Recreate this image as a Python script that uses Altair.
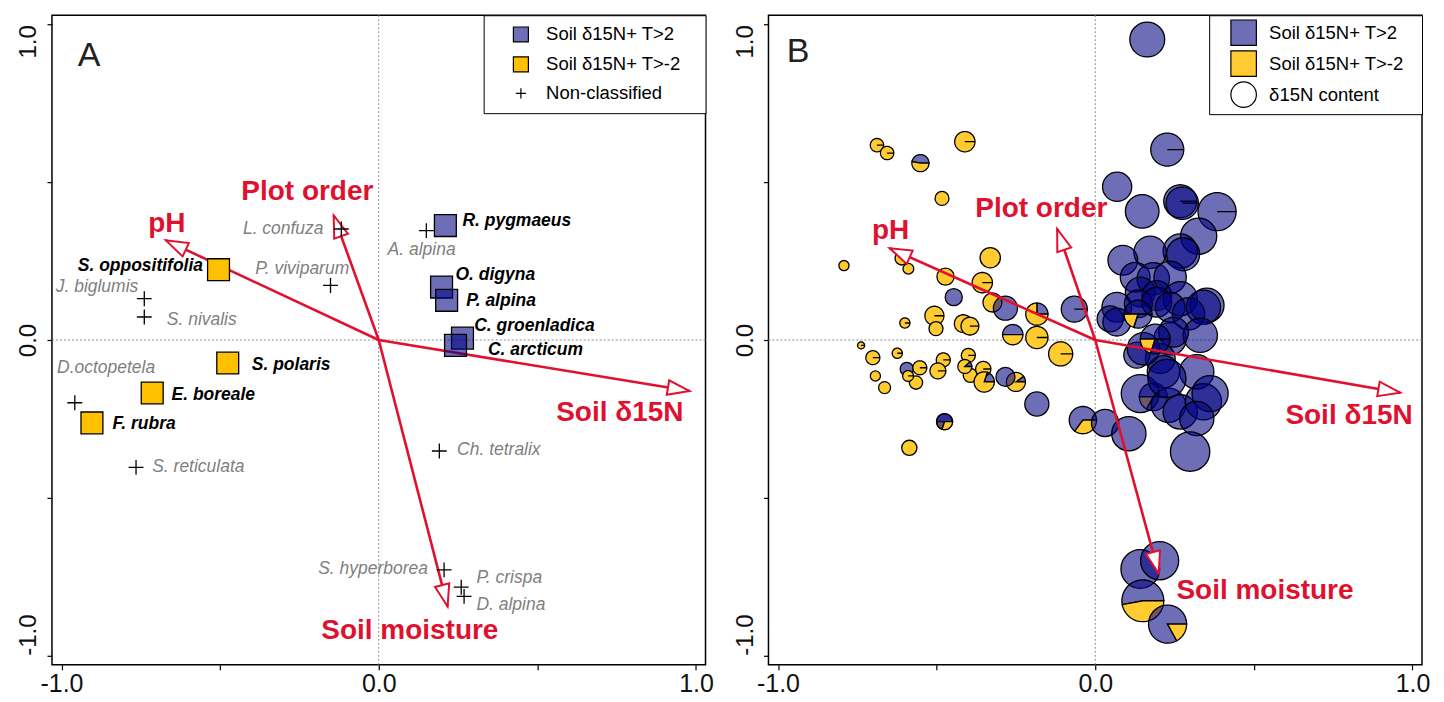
import math
import altair as alt
import pandas as pd

FONT = "Liberation Sans, Arial, Helvetica, sans-serif"
RED = "#E0102F"
BLUE = "rgba(0,0,128,0.57)"
YEL_A = "#FFC000"
YEL_B = "#FFCB30"
GRAY_TXT = "#7F7F7F"
W, H = 654, 650
DOM = [-1.03, 1.03]
PPU = W / (DOM[1] - DOM[0])

TICKS = [-1.0, -0.5, 0.0, 0.5, 1.0]
TICK_EXPR = "datum.value == 0 ? '0.0' : datum.value > 0.9 ? '1.0' : datum.value < -0.9 ? '-1.0' : ''"

G1, G2, G3 = "Soil δ15N+ T>2", "Soil δ15N+ T>-2", "Non-classified"
G4 = "δ15N content"
GRP_A = [G1, G2, G3]
GRP_B = [G1, G2, G4]
CROSS = "M-0.68,0L0.68,0M0,-0.68L0,0.68"
HEAD = "M0,0L-0.5,1.5L0.5,1.5Z"

# ---------------- Panel A: species scores ----------------
a_names = ["R. pygmaeus", "O. digyna", "P. alpina", "C. groenladica", "C. arcticum",
           "S. oppositifolia", "S. polaris", "E. boreale", "F. rubra",
           "L. confuza", "A. alpina", "P. viviparum", "J. biglumis", "S. nivalis",
           "D.octopetela", "S. reticulata", "Ch. tetralix", "S. hyperborea", "P. crispa", "D. alpina"]
a_group = ["T>2"] * 5 + ["T>-2"] * 4 + ["NC"] * 11
a_x = [0.210, 0.198, 0.214, 0.264, 0.242,
       -0.505, -0.476, -0.714, -0.904,
       -0.118, 0.150, -0.152, -0.739, -0.739, -0.958, -0.765, 0.191, 0.206, 0.260, 0.269]
a_y = [0.363, 0.168, 0.126, 0.006, -0.017,
       0.223, -0.073, -0.168, -0.263,
       0.352, 0.347, 0.173, 0.131, 0.073, -0.199, -0.404, -0.352, -0.729, -0.784, -0.813]
a_lab_x = [0.264, 0.242, 0.276, 0.301, 0.344,
           -0.554, -0.400, -0.653, -0.839,
           -0.174, 0.028, -0.389, -0.758, -0.668, -1.014, -0.714, 0.247, 0.155, 0.308, 0.308]
a_lab_y = [0.379, 0.205, 0.123, 0.046, -0.033,
           0.236, -0.080, -0.175, -0.265,
           0.352, 0.284, 0.226, 0.168, 0.062, -0.089, -0.404, -0.349, -0.725, -0.755, -0.840]
a_lab_side = ["left"] * 5 + ["right", "left", "left", "left"] + \
             ["right", "left", "left", "right", "left", "left", "left", "left", "right", "left", "left"]

# ---------------- Environmental arrows ----------------
arrow_vars = ["pH", "Plot order", "Soil δ15N", "Soil moisture"]
a_arrow_x = [-0.671, -0.142, 0.980, 0.217]
a_arrow_y = [0.316, 0.395, -0.162, -0.845]
a_arrlab_x = [-0.668, -0.225, 0.760, 0.098]
a_arrlab_y = [0.368, 0.470, -0.232, -0.924]
b_arrow_x = [-0.648, -0.120, 0.961, 0.200]
b_arrow_y = [0.291, 0.352, -0.167, -0.740]
b_arrlab_x = [-0.645, -0.170, 0.800, 0.535]
b_arrlab_y = [0.347, 0.415, -0.240, -0.795]

# ---------------- Panel B: plot scores as pies ----------------
# x, y: site scores; r: d15N content (pie radius, axis units); blue: share T>2 (first slice);
# yel: share T>-2 (second slice); edge: drawn as pie with slice borders
b_x = [-0.594, -0.688, -0.656, -0.551, -0.411, -0.483, -0.792, -0.331, -0.610, -0.589,
       -0.472, -0.356, -0.324, -0.507, -0.502, -0.600, -0.416, -0.395, -0.184, -0.109,
       -0.738, -0.701, -0.624, -0.693, -0.664, -0.479, -0.496, -0.400, -0.394, -0.353,
       -0.565, -0.586, -0.590, -0.553, -0.411, -0.350, -0.260, -0.184, -0.446, -0.283,
       -0.250, -0.283, -0.184, -0.475, -0.475, -0.039, 0.031, 0.106, -0.066, 0.164,
       0.227, 0.069, 0.148, 0.268, 0.274, 0.384, 0.326, 0.268, 0.277, 0.173,
       0.087, 0.126, 0.183, 0.236, 0.142, 0.194, 0.268, 0.352, 0.183, 0.068,
       0.047, 0.136, 0.194, 0.236, 0.294, 0.341, 0.236, 0.331, 0.205, 0.131,
       0.215, 0.320, 0.142, 0.231, 0.268, 0.341, 0.362, 0.320, 0.226, 0.247,
       0.068, 0.152, 0.299, 0.135, 0.189, 0.142, 0.203, 0.150, 0.228]
b_y = [-0.092, 0.618, 0.593, 0.561, 0.629, 0.449, 0.236, 0.261, 0.259, 0.226,
       0.201, 0.182, 0.119, 0.077, 0.036, 0.054, 0.052, 0.044, 0.008, -0.044,
       -0.017, -0.056, -0.042, -0.114, -0.151, -0.063, -0.098, -0.049, -0.112, -0.092,
       -0.135, -0.342, -0.114, -0.088, -0.084, -0.133, 0.017, 0.082, 0.136, 0.101,
       -0.133, -0.117, -0.203, -0.259, -0.259, -0.254, -0.263, -0.297, 0.098, 0.953,
       0.604, 0.486, 0.408, 0.440, 0.434, 0.407, 0.329, 0.282, 0.272, 0.278,
       0.253, 0.199, 0.194, 0.199, 0.152, 0.141, 0.131, 0.110, -0.180, 0.104,
       0.067, 0.115, 0.120, 0.104, 0.083, 0.104, 0.004, 0.015, -0.059, -0.048,
       -0.101, -0.101, -0.170, -0.207, -0.228, -0.196, -0.170, -0.249, -0.122, 0.025,
       0.057, -0.028, -0.354, 0.082, 0.003, -0.726, -0.700, -0.827, -0.901]
b_r = [0.021, 0.021, 0.021, 0.027, 0.032, 0.022, 0.016, 0.032, 0.021, 0.017,
       0.027, 0.032, 0.030, 0.030, 0.022, 0.016, 0.028, 0.028, 0.035, 0.038,
       0.011, 0.022, 0.016, 0.016, 0.019, 0.022, 0.025, 0.022, 0.022, 0.024,
       0.021, 0.024, 0.017, 0.022, 0.022, 0.032, 0.032, 0.035, 0.027, 0.038,
       0.030, 0.030, 0.038, 0.025, 0.025, 0.043, 0.043, 0.054, 0.041, 0.055,
       0.052, 0.046, 0.053, 0.052, 0.051, 0.060, 0.057, 0.054, 0.052, 0.051,
       0.047, 0.047, 0.051, 0.051, 0.047, 0.047, 0.054, 0.054, 0.044, 0.047,
       0.041, 0.044, 0.047, 0.047, 0.051, 0.054, 0.051, 0.054, 0.047, 0.041,
       0.051, 0.054, 0.060, 0.054, 0.054, 0.057, 0.057, 0.054, 0.060, 0.047,
       0.044, 0.051, 0.062, 0.044, 0.047, 0.061, 0.060, 0.066, 0.060]
b_blue = [1, 0, 0, 0.47, 0, 0, 0, 0, 0, 0,
          0, 0, 0, 0, 0, 0, 0, 0, 0, 0,
          0, 0, 0, 0, 0, 0, 0, 0, 0, 0,
          0, 0, 0, 0, 0.12, 0.2, 0.5, 0.25, 1, 1,
          0.1, 1, 1, 0.5, 0.7, 0.65, 1, 1, 1, 1,
          1, 1, 1, 1, 1, 1, 1, 1, 1, 1,
          1, 1, 1, 1, 1, 1, 1, 1, 0.5, 1,
          1, 1, 1, 1, 1, 1, 1, 1, 1, 1,
          1, 1, 1, 1, 1, 1, 1, 1, 1, 1,
          1, 1, 1, 0.5, 0.5, 1, 1, 0.53, 0.83]
b_yel = [0, 1, 1, 0.53, 1, 1, 1, 1, 1, 1,
         1, 1, 1, 1, 1, 1, 1, 1, 1, 1,
         1, 1, 1, 1, 1, 1, 1, 1, 1, 1,
         1, 1, 1, 1, 0.88, 0.8, 0.5, 0.75, 0, 0,
         0.9, 0, 0, 0.5, 0.3, 0.35, 0, 0, 0, 0,
         0, 0, 0, 0, 0, 0, 0, 0, 0, 0,
         0, 0, 0, 0, 0, 0, 0, 0, 0.17, 0,
         0, 0, 0, 0, 0, 0, 0, 0, 0, 0,
         0, 0, 0, 0, 0, 0, 0, 0, 0, 0,
         0, 0, 0, 0.2, 0.2, 0, 0, 0.47, 0.17]
b_edge = [0, 1, 1, 1, 1, 0, 0, 0, 0, 0,
          0, 1, 0, 1, 0, 1, 1, 1, 1, 1,
          1, 1, 1, 0, 0, 1, 1, 1, 0, 1,
          0, 0, 1, 1, 1, 1, 1, 1, 0, 0,
          1, 0, 0, 1, 1, 1, 0, 0, 1, 0,
          1, 0, 0, 1, 1, 1, 0, 0, 0, 0,
          0, 0, 0, 0, 0, 0, 0, 0, 1, 0,
          0, 0, 0, 0, 0, 0, 0, 0, 0, 0,
          0, 0, 0, 0, 0, 0, 0, 0, 0, 0,
          0, 0, 0, 1, 1, 0, 0, 1, 1]

letters = ["A", "B"]
letter_x = [-0.913, -0.937]
letter_y = [0.900, 0.913]


# ---------------- helpers ----------------
def slice_path(f0, f1):
    a0, a1 = 2 * math.pi * f0, 2 * math.pi * f1
    n = max(2, int(math.ceil((a1 - a0) / (math.pi / 36))))
    parts = ["M0,0"]
    for k in range(n + 1):
        a = a0 + (a1 - a0) * k / n
        parts.append("L%.4f,%.4f" % (math.cos(a), -math.sin(a)))
    parts.append("Z")
    return "".join(parts)


def sc():
    return alt.Scale(domain=DOM, nice=False, zero=False)


Y_ALIGN = {"condition": [{"test": "datum.value > 0.9", "value": "right"},
                         {"test": "datum.value < -0.9", "value": "left"}],
           "value": "center"}


def ax_x():
    return alt.Axis(values=TICKS, labelExpr=TICK_EXPR, title=None, grid=False, domain=False,
                    tickSize=5, tickWidth=1.2, tickColor="black", labelFont=FONT, labelFontSize=25,
                    labelColor="#111111", labelPadding=2, labelFlush=False, labelOverlap=False,
                    labelAngle=0, labelAlign="center", labelBaseline="top")


def ax_y():
    return alt.Axis(values=TICKS, labelExpr=TICK_EXPR, title=None, grid=False, domain=False,
                    tickSize=5, tickWidth=1.2, tickColor="black", labelFont=FONT, labelFontSize=24,
                    labelColor="#111111", labelPadding=6, labelFlush=False, labelOverlap=False,
                    labelAngle=270, labelAlign=Y_ALIGN, labelBaseline="bottom",
                    minExtent=43, maxExtent=43)


def X(f):
    return alt.X(f, type="quantitative", scale=sc(), axis=ax_x())


def Y(f):
    return alt.Y(f, type="quantitative", scale=sc(), axis=ax_y())


zero_df = pd.DataFrame({"v": [0.0]})


def zero_lines():
    v = alt.Chart(zero_df).mark_rule(color="#8a8a8a", strokeDash=[2, 2], strokeWidth=1).encode(x=X("v"))
    h = alt.Chart(zero_df).mark_rule(color="#8a8a8a", strokeDash=[2, 2], strokeWidth=1).encode(y=Y("v"))
    return [v, h]


def arrows(ax, ay, lx, ly):
    df = pd.DataFrame({"var": arrow_vars, "x0": [0.0] * 4, "y0": [0.0] * 4,
                       "x": ax, "y": ay, "lx": lx, "ly": ly})
    df["ang"] = [(math.degrees(math.atan2(dx, dy)) + 360) % 360 for dx, dy in zip(ax, ay)]
    rules = alt.Chart(df).mark_rule(color=RED, strokeWidth=2.6).encode(
        x=X("x0"), y=Y("y0"), x2=alt.X2("x"), y2=alt.Y2("y"))
    heads = alt.Chart(df).mark_point(shape=HEAD, filled=True, fill="white", stroke=RED,
                                     strokeWidth=2, size=860, opacity=1).encode(
        x=X("x"), y=Y("y"), angle=alt.Angle("ang:Q", scale=None))
    labels = alt.Chart(df).mark_text(font=FONT, fontSize=28, fontWeight="bold", color=RED,
                                     align="center", baseline="middle").encode(
        x=X("lx"), y=Y("ly"), text="var:N")
    return rules, heads, labels


def letter(i):
    df = pd.DataFrame({"t": [letters[i]], "x": [letter_x[i]], "y": [letter_y[i]]})
    return alt.Chart(df).mark_text(font=FONT, fontSize=34, color="#222222", align="center",
                                   baseline="middle").encode(x=X("x"), y=Y("y"), text="t:N")


BL = "\u2800"  # blank filler glyph to widen the legend box

# ---------------- Panel A ----------------
gname = {"T>2": G1, "T>-2": G2, "NC": G3}
dfA = pd.DataFrame({"name": a_names, "x": a_x, "y": a_y, "kind": a_group,
                    "grp": [gname[g] for g in a_group],
                    "lx": a_lab_x, "ly": a_lab_y, "side": a_lab_side})

LEG_A = alt.Legend(title=None, orient="top-right", offset=0, padding=10, symbolOffset=18,
                   labelOffset=16, rowPadding=9, symbolSize=225, labelLimit=320,
                   symbolStrokeWidth=1.2, labelFontSize=18.5, labelFont=FONT, labelColor="black",
                   strokeColor="black", fillColor="white",
                   labelExpr="datum.label + '" + BL + "'")

ptsA = alt.Chart(dfA).mark_point(filled=True, strokeWidth=1.3, opacity=1, size=480).encode(
    x=X("x"), y=Y("y"),
    fill=alt.Fill("grp:N", scale=alt.Scale(domain=GRP_A, range=[BLUE, YEL_A, "transparent"]), legend=LEG_A),
    stroke=alt.Stroke("grp:N", scale=alt.Scale(domain=GRP_A, range=["black", "black", "black"]), legend=LEG_A),
    shape=alt.Shape("grp:N", scale=alt.Scale(domain=GRP_A, range=["square", "square", CROSS]), legend=LEG_A),
)


def textA(classified, side):
    test = ("datum.kind != 'NC'" if classified else "datum.kind == 'NC'") + " && datum.side == '%s'" % side
    return alt.Chart(dfA).transform_filter(test).mark_text(
        font=FONT, fontSize=17.5, fontStyle="italic",
        fontWeight="bold" if classified else "normal",
        color="black" if classified else GRAY_TXT,
        align=side, baseline="middle").encode(x=X("lx"), y=Y("ly"), text="name:N")


rA, hA, lA = arrows(a_arrow_x, a_arrow_y, a_arrlab_x, a_arrlab_y)
panelA = alt.layer(*zero_lines(), rA, hA, ptsA,
                   textA(True, "left"), textA(True, "right"),
                   textA(False, "left"), textA(False, "right"),
                   lA, letter(0)).resolve_scale(
    shape="independent", fill="independent", stroke="independent"
).properties(width=W, height=H)

# ---------------- Panel B ----------------
rows = []
for i, (x, y, r, b, yl, e) in enumerate(zip(b_x, b_y, b_r, b_blue, b_yel, b_edge)):
    if not e:
        rows.append({"cid": i, "x": x, "y": y, "r": r, "grp": G1 if b >= 1 else G2, "path": "circle"})
    else:
        segs = [(G1, 0.0, b), (G2, b, b + yl), (G1, b + yl, 1.0)]
        for g, f0, f1 in segs:
            if f1 - f0 > 1e-6:
                rows.append({"cid": i, "x": x, "y": y, "r": r, "grp": g, "path": slice_path(f0, f1)})
dfB = pd.DataFrame(rows)

FILL_B = alt.Scale(domain=GRP_B, range=[BLUE, YEL_B, "white"])
LEG_B = alt.Legend(title=None, orient="top-right", offset=0, padding=4, symbolOffset=17,
                   labelOffset=12, rowPadding=0, symbolSize=650, labelLimit=320,
                   symbolStrokeWidth=1.2, symbolOpacity=1, labelFontSize=18.5, labelFont=FONT,
                   labelColor="black", strokeColor="black", fillColor="white",
                   labelExpr="datum.label + '" + BL + "'")

pies = alt.Chart(dfB).mark_point(filled=True, stroke="black", strokeWidth=1.3, opacity=1).encode(
    x=X("x"), y=Y("y"),
    fill=alt.Fill("grp:N", scale=FILL_B, legend=None),
    shape=alt.Shape("path:N", scale=None, legend=None),
    size=alt.Size("r:Q", scale=alt.Scale(type="pow", exponent=2, domain=[0, 0.1],
                                         range=[0, (0.2 * PPU) ** 2]), legend=None),
)
legB = alt.Chart(dfB).mark_point(filled=True, opacity=0).encode(
    x=X("x"), y=Y("y"),
    fill=alt.Fill("grp:N", scale=FILL_B, legend=LEG_B),
    stroke=alt.Stroke("grp:N", scale=alt.Scale(domain=GRP_B, range=["black", "black", "black"]), legend=LEG_B),
    shape=alt.Shape("grp:N", scale=alt.Scale(domain=GRP_B, range=["square", "square", "circle"]), legend=LEG_B),
)

rB, hB, lB = arrows(b_arrow_x, b_arrow_y, b_arrlab_x, b_arrlab_y)
panelB = alt.layer(*zero_lines(), pies, legB, rB, hB, lB, letter(1)).resolve_scale(
    shape="independent", fill="independent", stroke="independent").properties(width=W, height=H)

chart = alt.hconcat(panelA, panelB, spacing=63, bounds="flush").properties(
    padding={"left": 0, "top": 5, "right": 5, "bottom": 0}
).configure_view(stroke="black", strokeWidth=1.5)

chart.save("out.html", embed_options={"renderer": "svg", "actions": False})
